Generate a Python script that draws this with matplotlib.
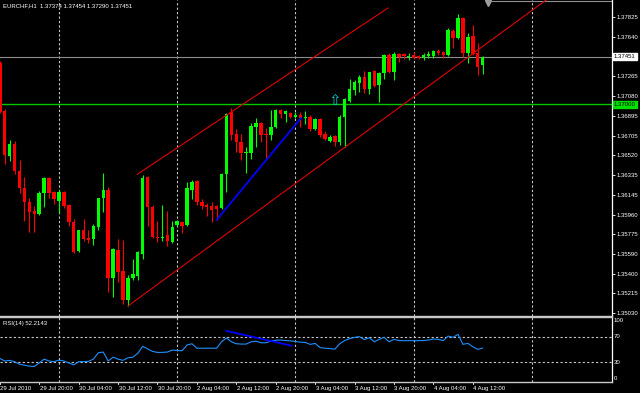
import matplotlib
matplotlib.use('Agg')
import matplotlib.pyplot as plt
from matplotlib.transforms import blended_transform_factory as blend

plt.rcParams['font.family'] = ['Liberation Sans', 'DejaVu Sans']

# ---------------- data ----------------
SYMBOL_TEXT = "EURCHF,H1  1.37374 1.37454 1.37290 1.37451"
RSI_TEXT = "RSI(14) 52.2143"

OPEN = [1.37391, 1.36938, 1.36513, 1.36626, 1.36371, 1.36211, 1.36079, 1.35994, 1.35965, 1.36164,
        1.36305, 1.36173, 1.36088, 1.36173, 1.36050, 1.35890, 1.35616, 1.35814, 1.35739, 1.35729,
        1.35842, 1.36116, 1.36192, 1.35361, 1.35625, 1.35427, 1.35153, 1.35361, 1.35380, 1.35588,
        1.36315, 1.36031, 1.35748, 1.35739, 1.35767, 1.35701, 1.35861, 1.35890, 1.35861, 1.36192,
        1.36277, 1.36079, 1.36050, 1.36041, 1.36041, 1.36022, 1.36343, 1.36928, 1.36721, 1.36645,
        1.36541, 1.36541, 1.36787, 1.36825, 1.36721, 1.36711, 1.36787, 1.36947, 1.36910, 1.36919,
        1.36881, 1.36900, 1.36872, 1.36881, 1.36768, 1.36862, 1.36721, 1.36655, 1.36702, 1.36645,
        1.36881, 1.37032, 1.37136, 1.37202, 1.37259, 1.37146, 1.37316, 1.37183, 1.37297, 1.37467,
        1.37306, 1.37476, 1.37476, 1.37448, 1.37467, 1.37457, 1.37438, 1.37457, 1.37457, 1.37504,
        1.37495, 1.37467, 1.37693, 1.37627, 1.37816, 1.37486, 1.37646, 1.37486, 1.37374]
HIGH = [1.37410, 1.36957, 1.36664, 1.36655, 1.36475, 1.36315, 1.36116, 1.36041, 1.36182, 1.36315,
        1.36310, 1.36182, 1.36192, 1.36178, 1.36060, 1.35918, 1.35814, 1.35918, 1.35814, 1.35871,
        1.36116, 1.36352, 1.36220, 1.35644, 1.35729, 1.35720, 1.35389, 1.35540, 1.35616, 1.36334,
        1.36324, 1.36050, 1.35899, 1.36050, 1.35994, 1.35899, 1.35909, 1.35895, 1.36267, 1.36286,
        1.36286, 1.36107, 1.36069, 1.36079, 1.36046, 1.36352, 1.36919, 1.36966, 1.36768, 1.36721,
        1.36598, 1.36825, 1.36872, 1.36830, 1.36777, 1.36947, 1.36957, 1.36957, 1.36947, 1.36928,
        1.36928, 1.36928, 1.36938, 1.36900, 1.36872, 1.36872, 1.36749, 1.36711, 1.36711, 1.36900,
        1.37061, 1.37240, 1.37231, 1.37278, 1.37316, 1.37306, 1.37325, 1.37306, 1.37476, 1.37486,
        1.37495, 1.37486, 1.37486, 1.37486, 1.37495, 1.37467, 1.37486, 1.37504, 1.37514, 1.37523,
        1.37504, 1.37722, 1.37712, 1.37854, 1.37825, 1.37674, 1.37750, 1.37580, 1.37454]
LOW = [1.36919, 1.36437, 1.36466, 1.36343, 1.36164, 1.35899, 1.35795, 1.35795, 1.35956, 1.36031,
       1.36116, 1.36060, 1.35975, 1.36022, 1.35852, 1.35597, 1.35606, 1.35710, 1.35691, 1.35673,
       1.35814, 1.35984, 1.35229, 1.35181, 1.35323, 1.35115, 1.35096, 1.35342, 1.35342, 1.35540,
       1.35852, 1.35739, 1.35701, 1.35710, 1.35663, 1.35691, 1.35852, 1.35786, 1.35852, 1.36107,
       1.36050, 1.36012, 1.35946, 1.35890, 1.35909, 1.36012, 1.36173, 1.36664, 1.36551, 1.36475,
       1.36352, 1.36485, 1.36598, 1.36645, 1.36494, 1.36664, 1.36777, 1.36872, 1.36834, 1.36872,
       1.36872, 1.36787, 1.36815, 1.36749, 1.36758, 1.36692, 1.36664, 1.36645, 1.36607, 1.36617,
       1.36598, 1.37023, 1.37089, 1.37117, 1.37108, 1.37098, 1.37165, 1.37023, 1.37240, 1.37297,
       1.37231, 1.37401, 1.37429, 1.37419, 1.37429, 1.37429, 1.37419, 1.37438, 1.37438, 1.37467,
       1.37438, 1.37457, 1.37533, 1.37618, 1.37448, 1.37391, 1.37467, 1.37278, 1.37290]
CLOSE = [1.36928, 1.36522, 1.36626, 1.36371, 1.36211, 1.36079, 1.35984, 1.35965, 1.36164, 1.36305,
         1.36164, 1.36107, 1.36173, 1.36041, 1.35890, 1.35606, 1.35814, 1.35729, 1.35720, 1.35852,
         1.36116, 1.36192, 1.35361, 1.35635, 1.35418, 1.35153, 1.35361, 1.35399, 1.35606, 1.36305,
         1.36031, 1.35748, 1.35739, 1.35748, 1.35710, 1.35842, 1.35899, 1.35852, 1.36211, 1.36267,
         1.36079, 1.36041, 1.36031, 1.36003, 1.36012, 1.36343, 1.36910, 1.36711, 1.36645, 1.36541,
         1.36551, 1.36796, 1.36825, 1.36711, 1.36711, 1.36787, 1.36947, 1.36910, 1.36938, 1.36881,
         1.36900, 1.36872, 1.36881, 1.36768, 1.36862, 1.36711, 1.36673, 1.36692, 1.36645, 1.36881,
         1.37051, 1.37146, 1.37212, 1.37259, 1.37146, 1.37306, 1.37174, 1.37297, 1.37467, 1.37306,
         1.37476, 1.37448, 1.37457, 1.37457, 1.37438, 1.37438, 1.37467, 1.37476, 1.37504, 1.37486,
         1.37467, 1.37703, 1.37627, 1.37816, 1.37486, 1.37637, 1.37476, 1.37353, 1.37451]

RSI = [36, 32, 33, 31, 27, 25.5, 24, 23.5, 29, 35,
       32, 31, 33.5, 32, 29, 26, 31, 31, 31.5, 35,
       45, 46, 32, 38, 35, 33, 37, 38, 44, 55,
       51, 47, 45.5, 45.5, 46, 49, 48.5, 48, 57, 59,
       52, 52, 52, 52, 52, 62, 68, 62, 59, 58.5,
       58.5, 62, 63, 60.5, 60.5, 63, 64.5, 64.8, 64, 63.5,
       62.5, 61.5, 61, 58, 59.5, 53, 52, 51.5, 50.5, 59,
       64, 67, 69, 70, 65.5, 68.4, 62, 65.8, 69, 62,
       65.8, 64, 63.8, 63.8, 63.8, 63.8, 64, 64.8, 66.4, 65.8,
       63.8, 71, 69, 73.6, 58, 59.6, 54.4, 50.2, 52.2143]

CURRENT_PRICE = 1.37451
LEVEL_PRICE = 1.37000
# the 1.37455 label is hidden under the current-price box in the reference
PRICE_TICKS = [1.37825, 1.37640, 1.37265, 1.37080, 1.36895, 1.36705, 1.36520,
               1.36335, 1.36145, 1.35960, 1.35775, 1.35590, 1.35400, 1.35215, 1.35030]
RSI_LABELS = ["100", "70", "30", "0"]
RSI_LEVELS = [70, 30]

TIME_BARS = [0, 8, 16, 24, 32, 40, 48, 56, 64, 72, 80, 88, 96]
TIME_LABELS = ["29 Jul 2010", "29 Jul 20:00", "30 Jul 04:00", "30 Jul 12:00", "30 Jul 20:00",
               "2 Aug 04:00", "2 Aug 12:00", "2 Aug 20:00", "3 Aug 04:00", "3 Aug 12:00",
               "3 Aug 20:00", "4 Aug 04:00", "4 Aug 12:00"]
DAY_START_BARS = [12, 36, 60, 84, 108]

# trend objects (bar index, price)
UPPER_LINE = ([27.9, 78.8], [1.36340, 1.37910])
LOWER_LINE = ([26.0, 100.9], [1.35096, 1.37646])
BLUE_LINE = ([44.0, 61.1], [1.35909, 1.36869])
RSI_TREND = ([46.0, 59.2], [79.0, 56.0])
ARROW_POS = (68, 1.37040)

# ---------------- layout ----------------
W, H = 640, 393
BAR_PX = 4.927
BAR0_PX = -0.2
PLOT_R = 612
MAIN_BOT = 316
RSI_TOP, RSI_BOT = 317, 382

def fy(py):
    return 1 - py / H

fig = plt.figure(figsize=(W / 100, H / 100), dpi=100, facecolor='black')
xlim = ((0 - BAR0_PX) / BAR_PX, (PLOT_R - BAR0_PX) / BAR_PX)

ax = fig.add_axes([0, fy(MAIN_BOT), PLOT_R / W, MAIN_BOT / H])
ax.set_facecolor('black')
ax.set_xlim(*xlim)
ax.set_ylim(1.35002, 1.379857)

ax2 = fig.add_axes([0, fy(RSI_BOT), PLOT_R / W, (RSI_BOT - RSI_TOP) / H])
ax2.set_facecolor('black')
ax2.set_xlim(*xlim)
ax2.set_ylim(-0.78, 100.78)

FS = 4.3
for a in (ax, ax2):
    for s in ('left', 'top'):
        a.spines[s].set_visible(False)
    a.spines['right'].set_color('white')
    a.spines['right'].set_linewidth(0.9)
    a.set_xticks([])
ax.spines['bottom'].set_color('#c8c8c8')
ax.spines['bottom'].set_linewidth(1.0)
ax2.spines['bottom'].set_color('#c8c8c8')
ax2.spines['bottom'].set_linewidth(1.0)
ax2.spines['top'].set_visible(True)
ax2.spines['top'].set_color('#c8c8c8')
ax2.spines['top'].set_linewidth(1.0)

ax.yaxis.tick_right()
ax.set_yticks(PRICE_TICKS)
ax.set_yticklabels([f"{v:.5f}" for v in PRICE_TICKS])
ax.tick_params(axis='y', colors='white', labelsize=FS, length=2, width=0.6, pad=1)
ax2.set_yticks([])

# grid
grid_kw = dict(color='#c8c8c8', lw=0.8, ls=(0, (2, 2)), zorder=1)
for b in DAY_START_BARS:
    ax.axvline(b, **grid_kw)
    ax2.axvline(b, **grid_kw)
for lv in RSI_LEVELS:
    ax2.axhline(lv, **grid_kw)

# horizontal price lines
ax.axhline(CURRENT_PRICE, color='#8c8c8c', lw=0.8, zorder=2)
ax.axhline(LEVEL_PRICE, color='#00c800', lw=1.0, zorder=2)

# candles
n = len(OPEN)
idx = list(range(n))
cols = ['#00ff00' if c >= o else '#ff0000' for o, c in zip(OPEN, CLOSE)]
ax.vlines(idx, LOW, HIGH, colors=cols, lw=0.8, zorder=3)
bottoms = [min(o, c) for o, c in zip(OPEN, CLOSE)]
heights = [max(abs(c - o), 0.00011) for o, c in zip(OPEN, CLOSE)]
ax.bar(idx, heights, bottom=bottoms, width=0.7, color=cols, lw=0, zorder=4)

# trend lines
slope = (LOWER_LINE[1][1] - LOWER_LINE[1][0]) / (LOWER_LINE[0][1] - LOWER_LINE[0][0])
ax.plot([LOWER_LINE[0][0], xlim[1]],
        [LOWER_LINE[1][0], LOWER_LINE[1][0] + slope * (xlim[1] - LOWER_LINE[0][0])],
        color='#e00000', lw=0.8, zorder=5)
ax.plot(*UPPER_LINE, color='#e00000', lw=0.8, zorder=5)
ax.plot(*BLUE_LINE, color='#0000ff', lw=1.3, zorder=5)
ax.text(ARROW_POS[0], ARROW_POS[1], '\u21e7', color='#00cccc', fontsize=11,
        ha='center', va='center', family='DejaVu Sans', zorder=6)

# right side boxes
tr = blend(ax.transAxes, ax.transData)
ax.text(1 + 2 / PLOT_R, CURRENT_PRICE, f"{CURRENT_PRICE:.5f}", transform=tr, ha='left', va='center',
        fontsize=FS, color='black', clip_on=False, zorder=10,
        bbox=dict(boxstyle='square,pad=0.2', fc='white', ec='white'))
ax.text(1 + 2 / PLOT_R, LEVEL_PRICE, f"{LEVEL_PRICE:.5f}", transform=tr, ha='left', va='center',
        fontsize=FS, color='black', clip_on=False, zorder=10,
        bbox=dict(boxstyle='square,pad=0.2', fc='#00e000', ec='#00e000'))

# header
fig.text(3 / W, fy(6), SYMBOL_TEXT, color='white', fontsize=FS, ha='left', va='center')
fig.text(3 / W, fy(323), RSI_TEXT, color='white', fontsize=FS, ha='left', va='center')

# chart shift marker
trx = blend(ax.transData, ax.transAxes)
ax.plot([99.1], [1 - 2.5 / MAIN_BOT], marker='v', color='#a0a0a0', ms=4, transform=trx, clip_on=False)
ax.plot([99.1, xlim[1]], [1 - 0.5 / MAIN_BOT] * 2, color='#909090', lw=0.8, transform=trx, clip_on=False)

# RSI
ax2.plot(idx, RSI, color='#1e90ff', lw=0.8, zorder=3)
ax2.plot(*RSI_TREND, color='#0000ff', lw=1.3, zorder=4)
for lab, py in zip(RSI_LABELS, [321, 336.5, 362, 378]):
    fig.text(614 / W, fy(py), lab, color='white', fontsize=FS, ha='left', va='center')

# time labels
trt = blend(ax2.transData, ax2.transAxes)
for b, lab in zip(TIME_BARS, TIME_LABELS):
    ax2.text(max(b, xlim[0]) + 0.1, -0.06, lab, transform=trt, color='white', fontsize=FS,
             ha='left', va='top', clip_on=False)
    ax2.plot([b, b], [0, -0.03], color='white', lw=0.6, transform=trt, clip_on=False)

fig.savefig('out.png', dpi=100, facecolor='black')
